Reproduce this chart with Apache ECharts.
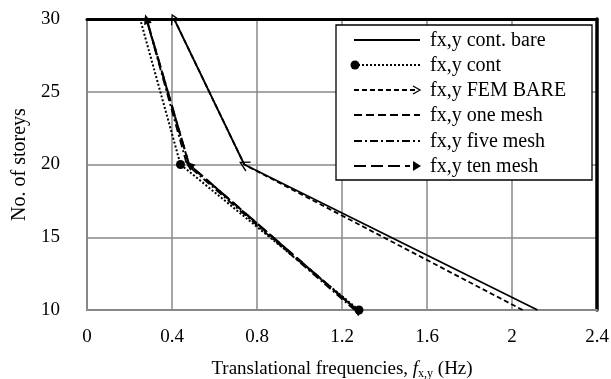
<!DOCTYPE html>
<html>
<head>
<meta charset="utf-8">
<script src="https://cdn.jsdelivr.net/npm/echarts@6/dist/echarts.min.js"></script>
<style>
  html, body { margin: 0; padding: 0; background: #fff; }
  #chart { width: 611px; height: 379px; }
</style>
</head>
<body>
<div id="chart"></div>
<script>
// ---- data ----
var storeys = [10, 20, 30];
var contBare = [2.12, 0.74, 0.41];
var cont = [1.28, 0.44, 0.25];
var femBare = [2.05, 0.74, 0.41];
var oneMesh = [1.27, 0.48, 0.28];
var fiveMesh = [1.26, 0.47, 0.28];
var tenMesh = [1.27, 0.48, 0.28];
var seriesNames = ['fx,y cont. bare', 'fx,y cont', 'fx,y FEM BARE', 'fx,y one mesh', 'fx,y five mesh', 'fx,y ten mesh'];
var xTicks = [0, 0.4, 0.8, 1.2, 1.6, 2.0, 2.4];

var FONT = '"Liberation Serif", "Times New Roman", serif';
var chart = echarts.init(document.getElementById('chart'));

function pairs(xs) {
    return xs.map(function (x, i) { return [x, storeys[i]]; });
}

// open arrow head used by the FEM series
var OPEN_ARROW = 'path://M0,10 L5,0 L10,10';

function buildSeries(rot) {
    // rot: per-series list of symbol angles (deg) for each point
    function pts(xs, idx, sym, size, showAt) {
        return xs.map(function (x, i) {
            var d = { value: [x, storeys[i]] };
            if (showAt.indexOf(i) < 0) {
                d.symbol = 'none';
            } else {
                d.symbol = sym;
                d.symbolSize = size;
                d.symbolRotate = rot && rot[idx] ? rot[idx][i] : 0;
            }
            return d;
        });
    }
    return [
        {
            name: seriesNames[0], type: 'line', showSymbol: false, symbol: 'none',
            data: pairs(contBare), lineStyle: { color: '#000', width: 1.8 }, z: 5
        },
        {
            name: seriesNames[1], type: 'line', symbol: 'circle', symbolSize: 9,
            data: pts(cont, 1, 'circle', 9, [0, 1]),
            lineStyle: { color: '#000', width: 2, type: [2, 2] },
            itemStyle: { color: '#000' }, z: 4
        },
        {
            name: seriesNames[2], type: 'line', symbol: 'none',
            data: pts(femBare, 2, OPEN_ARROW, [10, 9], [1, 2]),
            lineStyle: { color: '#000', width: 1.8, type: [5, 3] },
            itemStyle: { color: 'none', borderColor: '#000', borderWidth: 1.3 }, z: 4
        },
        {
            name: seriesNames[3], type: 'line', symbol: 'none',
            data: pairs(oneMesh), lineStyle: { color: '#000', width: 2, type: [8, 4] }, z: 3
        },
        {
            name: seriesNames[4], type: 'line', symbol: 'none',
            data: pairs(fiveMesh), lineStyle: { color: '#000', width: 1.8, type: [8, 3, 2, 3] }, z: 3
        },
        {
            name: seriesNames[5], type: 'line', symbol: 'none',
            data: pts(tenMesh, 5, 'triangle', [8, 10], [0, 1, 2]),
            lineStyle: { color: '#000', width: 2.2, type: [12, 5] },
            itemStyle: { color: '#000' }, z: 3
        }
    ];
}

// ---- hand-drawn legend box (samples + labels) ----
function legendGraphic() {
    var x0 = 336, y0 = 25, w = 256, h = 155;
    var rowY = [40, 65, 90, 115, 141, 166];
    var lx1 = 354, lx2 = 420, tx = 430;
    var dashes = [null, [2, 2], [5, 3], [8, 4], [8, 3, 2, 3], [12, 5]];
    var els = [{
        type: 'rect', shape: { x: x0, y: y0, width: w, height: h },
        style: { fill: '#fff', stroke: '#000', lineWidth: 1.3 }, z: 50
    }];
    rowY.forEach(function (y, i) {
        var x1 = lx1, x2 = lx2;
        if (i === 1) x1 = lx1 + 4;
        if (i === 2) x2 = lx2 - 2;
        if (i === 5) x2 = lx2 - 10;
        els.push({
            type: 'line', shape: { x1: x1, y1: y, x2: x2, y2: y },
            style: { stroke: '#000', lineWidth: 2, lineDash: dashes[i] }, z: 51
        });
        els.push({
            type: 'text', x: tx, y: y + 1,
            style: { text: seriesNames[i], font: '20px ' + FONT, fill: '#000', textVerticalAlign: 'middle' }, z: 51
        });
    });
    // circle for cont
    els.push({ type: 'circle', shape: { cx: 355, cy: 65, r: 4.5 }, style: { fill: '#000' }, z: 52 });
    // open arrow for FEM
    els.push({
        type: 'polyline', shape: { points: [[413, 86], [420, 90], [413, 94]] },
        style: { stroke: '#000', fill: 'none', lineWidth: 1.3 }, z: 52
    });
    // filled triangle for ten mesh
    els.push({
        type: 'polygon', shape: { points: [[413, 161], [421, 166], [413, 171]] },
        style: { fill: '#000' }, z: 52
    });
    return els;
}

var option = {
    animation: false,
    backgroundColor: '#fff',
    grid: { left: 87, right: 14, top: 19, bottom: 69, containLabel: false, outerBoundsMode: 'none' },
    xAxis: [{
        type: 'value', min: 0, max: 2.4, interval: 0.4,
        name: '{n|Translational frequencies, }{i|f}{s|x,y}{n| (Hz)}',
        nameLocation: 'middle', nameGap: 48,
        nameTextStyle: {
            rich: {
                n: { fontFamily: FONT, fontSize: 19, color: '#000' },
                i: { fontFamily: FONT, fontSize: 19, fontStyle: 'italic', color: '#000' },
                s: { fontFamily: FONT, fontSize: 12, color: '#000', padding: [10, 0, 0, 0] }
            }
        },
        axisLine: { show: true, lineStyle: { color: '#888', width: 2 } },
        axisTick: { show: false },
        axisLabel: {
            fontFamily: FONT, fontSize: 19, color: '#000', margin: 18,
            formatter: function (v) { return xTicks.indexOf(+v.toFixed(1)) >= 0 ? String(+v.toFixed(1)) : ''; }
        },
        splitLine: { show: true, lineStyle: { color: '#888', width: 1.5 } }
    }, {
        type: 'value', position: 'top', min: 0, max: 2.4,
        axisLine: { show: true, onZero: false, lineStyle: { color: '#000', width: 3 } },
        axisTick: { show: false }, axisLabel: { show: false }, splitLine: { show: false }
    }],
    yAxis: [{
        type: 'value', min: 10, max: 30, interval: 5,
        name: 'No. of storeys', nameLocation: 'middle', nameGap: 53,
        nameTextStyle: { fontFamily: FONT, fontSize: 20, color: '#000' },
        axisLine: { show: true, lineStyle: { color: '#888', width: 2 } },
        axisTick: { show: false },
        axisLabel: { fontFamily: FONT, fontSize: 19, color: '#000', margin: 27 },
        splitLine: { show: true, lineStyle: { color: '#888', width: 1.5 } }
    }, {
        type: 'value', position: 'right', min: 10, max: 30,
        axisLine: { show: true, onZero: false, lineStyle: { color: '#000', width: 3.5 } },
        axisTick: { show: false }, axisLabel: { show: false }, splitLine: { show: false }
    }],
    series: buildSeries(null),
    graphic: legendGraphic()
};
chart.setOption(option);

// rotate arrow/triangle symbols so they follow the line direction (pixel space)
function angles(xs) {
    var px = xs.map(function (x, i) {
        return chart.convertToPixel({ xAxisIndex: 0, yAxisIndex: 0 }, [x, storeys[i]]) || [0, 0];
    });
    return px.map(function (p, i) {
        var a = i > 0 ? px[i - 1] : p, b = i > 0 ? p : px[i + 1];
        var dx = b[0] - a[0], dy = b[1] - a[1];
        // symbol points up by default; rotation is counter-clockwise in degrees
        return Math.atan2(-dx, -dy) * 180 / Math.PI;
    });
}
var rot = [null, null, angles(femBare), null, null, angles(tenMesh)];
chart.setOption({ series: buildSeries(rot) });
</script>
</body>
</html>
